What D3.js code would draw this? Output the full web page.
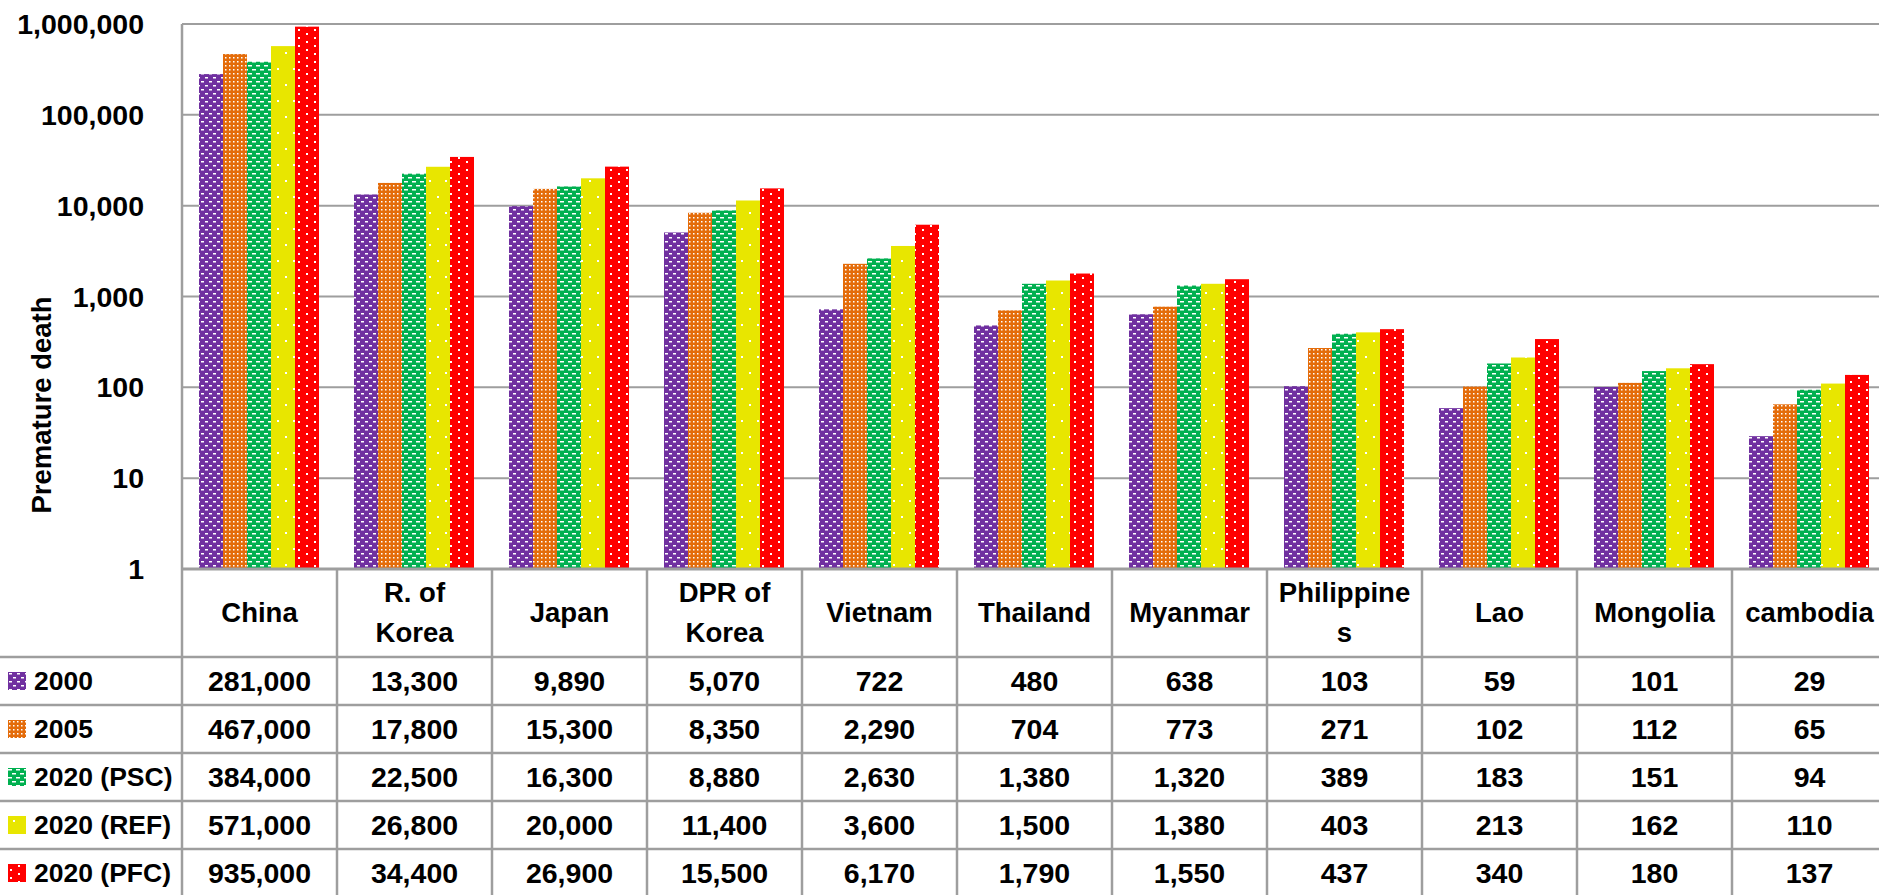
<!DOCTYPE html>
<html>
<head>
  <meta charset="utf-8">
  <script src="https://cdn.jsdelivr.net/npm/d3@7/dist/d3.min.js"></script>
  <style>
    body { margin: 0; background: #fff; }
    svg { display: block; font-family: "Liberation Sans", Arial, sans-serif; font-weight: bold; }
  </style>
</head>
<body>
  <svg id="chart" width="1879" height="895"></svg>
  <script>
    // data
    var countries = ["China", "R. of Korea", "Japan", "DPR of Korea", "Vietnam", "Thailand", "Myanmar", "Philippines", "Lao", "Mongolia", "cambodia"];
    var headerLines = [["China"], ["R. of", "Korea"], ["Japan"], ["DPR of", "Korea"], ["Vietnam"], ["Thailand"], ["Myanmar"], ["Philippine", "s"], ["Lao"], ["Mongolia"], ["cambodia"]];
    var seriesNames = ["2000", "2005", "2020 (PSC)", "2020 (REF)", "2020 (PFC)"];
    var v2000 = [281000, 13300, 9890, 5070, 722, 480, 638, 103, 59, 101, 29];
    var v2005 = [467000, 17800, 15300, 8350, 2290, 704, 773, 271, 102, 112, 65];
    var vPSC  = [384000, 22500, 16300, 8880, 2630, 1380, 1320, 389, 183, 151, 94];
    var vREF  = [571000, 26800, 20000, 11400, 3600, 1500, 1380, 403, 213, 162, 110];
    var vPFC  = [935000, 34400, 26900, 15500, 6170, 1790, 1550, 437, 340, 180, 137];
    var yTicks = [1, 10, 100, 1000, 10000, 100000, 1000000];

    var seriesValues = [v2000, v2005, vPSC, vREF, vPFC];
    var colors = ["#7030A0", "#E46C0A", "#00B050", "#E8E600", "#FF0000"];

    var svg = d3.select("#chart");
    var plotLeft = 182, colW = 155, plotTop = 24, axisY = 569, rowH = 48, headH = 88;
    var grid = "#9E9E9E";

    // fill patterns (white marks on the series colour)
    var defs = svg.append("defs");
    function pattern(id, color, w, h, marks) {
      var p = defs.append("pattern").attr("id", id)
        .attr("patternUnits", "userSpaceOnUse").attr("width", w).attr("height", h);
      p.append("rect").attr("width", w).attr("height", h).attr("fill", color);
      marks.forEach(function(m) {
        p.append("rect").attr("x", m[0]).attr("y", m[1]).attr("width", m[2]).attr("height", m[3]).attr("fill", "#fff");
      });
    }
    pattern("p0", colors[0], 8, 8, [[1, 1, 3, 1.5], [5, 5, 3, 1.5]]);
    pattern("p1", colors[1], 4, 4, [[1, 1, 1.5, 1.5]]);
    pattern("p2", colors[2], 8, 8, [[0, 1, 4, 1.5], [4, 5, 4, 1.5]]);
    pattern("p3", colors[3], 16, 32, [[5, 4, 2, 2], [13, 20, 2, 2]]);
    pattern("p4", colors[4], 16, 8, [[2, 1, 2, 2], [10, 5, 2, 2]]);

    var x = d3.scaleBand().domain(countries).range([plotLeft, plotLeft + colW * countries.length]).padding(0);
    var xs = d3.scaleBand().domain(seriesNames).range([17, 137]).padding(0);
    var y = d3.scaleLog().domain([1, 1000000]).range([axisY, plotTop]);

    // horizontal gridlines
    svg.append("g").selectAll("line").data(yTicks).enter().append("line")
      .attr("x1", plotLeft).attr("x2", 1879)
      .attr("y1", function(d) { return y(d); }).attr("y2", function(d) { return y(d); })
      .attr("stroke", grid).attr("stroke-width", 2);

    // y tick labels
    svg.append("g").selectAll("text").data(yTicks).enter().append("text")
      .attr("x", 144).attr("y", function(d) { return y(d); })
      .attr("text-anchor", "end").attr("dominant-baseline", "central")
      .attr("font-size", 28.5)
      .text(function(d) { return d3.format(",")(d); });

    // axis title
    svg.append("text")
      .attr("transform", "translate(41,405) rotate(-90)")
      .attr("text-anchor", "middle").attr("dominant-baseline", "central")
      .attr("font-size", 27.5)
      .text("Premature death");

    // bars
    seriesNames.forEach(function(s, si) {
      svg.append("g").selectAll("rect").data(seriesValues[si]).enter().append("rect")
        .attr("x", function(d, i) { return x(countries[i]) + xs(s); })
        .attr("width", xs.bandwidth())
        .attr("y", function(d) { return y(d); })
        .attr("height", function(d) { return axisY - y(d); })
        .attr("fill", "url(#p" + si + ")");
    });

    // data table
    var table = svg.append("g");
    var bottom = axisY + headH + rowH * seriesNames.length;
    // row lines
    table.append("line").attr("x1", plotLeft).attr("x2", 1879).attr("y1", axisY).attr("y2", axisY)
      .attr("stroke", grid).attr("stroke-width", 3);
    d3.range(seriesNames.length + 1).forEach(function(r) {
      var yy = axisY + headH + r * rowH;
      table.append("line").attr("x1", 0).attr("x2", 1879).attr("y1", yy).attr("y2", yy)
        .attr("stroke", grid).attr("stroke-width", 2.5);
    });
    // column lines
    table.append("line").attr("x1", plotLeft).attr("x2", plotLeft).attr("y1", plotTop).attr("y2", bottom)
      .attr("stroke", grid).attr("stroke-width", 2.5);
    countries.forEach(function(c) {
      var xx = x(c) + colW;
      table.append("line").attr("x1", xx).attr("x2", xx).attr("y1", axisY).attr("y2", bottom)
        .attr("stroke", grid).attr("stroke-width", 2.5);
    });

    // header (country names)
    countries.forEach(function(c, i) {
      var lines = headerLines[i];
      var cx = x(c) + colW / 2;
      var cy = axisY + headH / 2 - 1;
      lines.forEach(function(t, li) {
        table.append("text")
          .attr("x", cx).attr("y", cy + (li - (lines.length - 1) / 2) * 40)
          .attr("text-anchor", "middle").attr("dominant-baseline", "central")
          .attr("font-size", 27.5).text(t);
      });
    });

    // legend keys and values
    seriesNames.forEach(function(s, si) {
      var cy = axisY + headH + si * rowH + rowH / 2;
      table.append("rect").attr("x", 8).attr("y", cy - 9).attr("width", 18).attr("height", 18)
        .attr("fill", "url(#p" + si + ")");
      table.append("text").attr("x", 34).attr("y", cy)
        .attr("dominant-baseline", "central").attr("font-size", 26.5).text(s);
      table.append("g").selectAll("text").data(seriesValues[si]).enter().append("text")
        .attr("x", function(d, i) { return x(countries[i]) + colW / 2; })
        .attr("y", cy)
        .attr("text-anchor", "middle").attr("dominant-baseline", "central")
        .attr("font-size", 28.5)
        .text(function(d) { return d3.format(",")(d); });
    });
  </script>
</body>
</html>
